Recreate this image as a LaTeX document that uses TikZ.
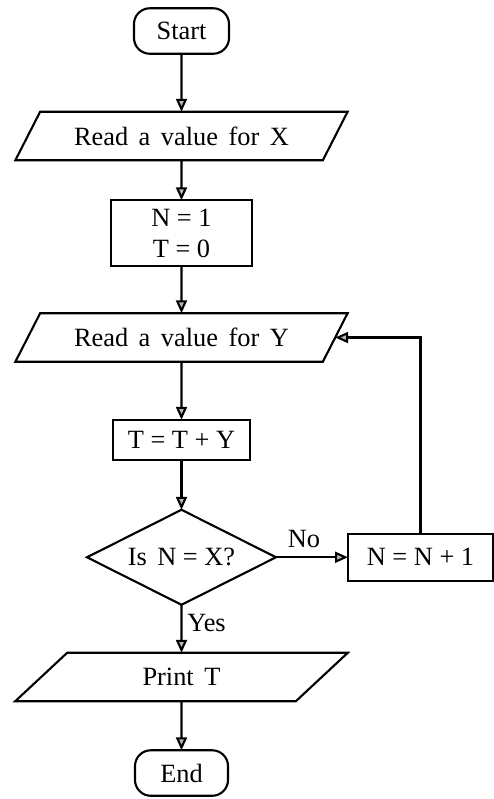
\documentclass[tikz,border=0pt]{standalone}
\usepackage{fontspec}
\setmainfont{Liberation Serif}
\usepackage{tikz}
\usetikzlibrary{arrows.meta,positioning,shapes.geometric}
\newcommand{\wsp}{\hskip0.4em\relax}
\tikzset{
  every node/.append style={outer sep=0pt},
  termbox/.style={rectangle,rounded corners=9pt,draw,line width=1.2pt,
    minimum width=1.9cm,minimum height=0.91cm,inner sep=2pt},
  iobox/.style={trapezium,trapezium left angle=45,trapezium right angle=135,
    trapezium stretches=true,draw,line width=1.2pt,
    minimum width=6.66cm,minimum height=0.97cm,inner sep=0pt},
  procbox/.style={rectangle,draw,line width=1.2pt,align=center,inner sep=2pt},
  decbox/.style={diamond,aspect=2,draw,line width=1.2pt,inner sep=0pt,
    minimum width=3.78cm,minimum height=1.9cm},
  arr/.style={-{Triangle[length=2.6mm,width=2.2mm,fill=gray!55]},line width=1.2pt},
  lbl/.style={font=\fontsize{15}{18}\selectfont},
}

\begin{document}
\begin{tikzpicture}[font=\fontsize{15}{19}\selectfont]

  \useasboundingbox (0,0) rectangle (9.86,-15.98);

  \node[termbox] (start) at (3.63,-0.62) {Start};

  \node[iobox,below=1.16cm of start] (readx) {Read\wsp a\wsp value\wsp for\wsp X};

  \node[procbox,below=0.8cm of readx,minimum width=2.82cm,minimum height=1.32cm] (init)
    {N = 1\\[-1pt] T = 0};

  \node[iobox,below=0.94cm of init] (ready) {Read\wsp a\wsp value\wsp for\wsp Y};

  \node[procbox,below=1.16cm of ready,minimum width=2.74cm,minimum height=0.8cm] (sum)
    {T = T + Y};

  \node[decbox,below=1.0cm of sum] (test) {Is\wsp N = X?};

  \node[procbox,right=1.44cm of test,minimum width=2.9cm,minimum height=0.94cm] (inc)
    {N = N + 1};

  \node[iobox,below=0.96cm of test] (print) {Print\wsp T};

  \node[termbox,below=0.98cm of print,minimum width=1.86cm] (stop) {End};

  \foreach \from/\to in {start/readx,readx/init,init/ready,ready/sum,sum/test,print/stop}
    \draw[arr] (\from) -- (\to);

  \draw[arr] (test) -- node[lbl,above,xshift=-0.16cm,yshift=2pt] {No} (inc);
  \draw[arr] (test) -- node[lbl,right,pos=0.38] {Yes} (print);
  \draw[arr] (inc.north) |- (ready.east);

\end{tikzpicture}
\end{document}
